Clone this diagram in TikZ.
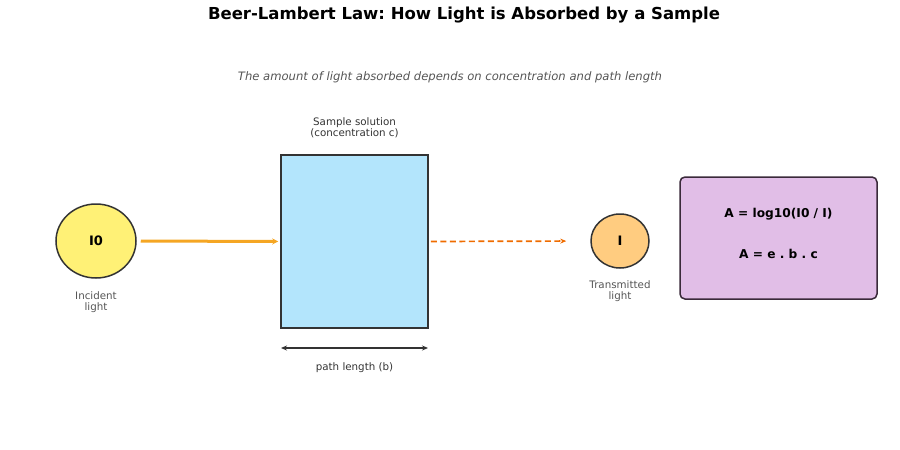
\documentclass[tikz,border=0pt]{standalone}
\usepackage{fontspec}
\setmainfont{DejaVu Sans}
\frenchspacing
\usetikzlibrary{arrows.meta,shapes.geometric}
\definecolor{ink}{HTML}{333333}
\definecolor{grey}{HTML}{555555}
\definecolor{yel}{HTML}{FFF176}
\definecolor{org}{HTML}{FFCC80}
\definecolor{blu}{HTML}{B3E5FC}
\definecolor{pur}{HTML}{E1BEE7}
\definecolor{pbord}{HTML}{3A2A3A}
\definecolor{beam}{HTML}{F5A623}
\definecolor{beamb}{HTML}{EF6C00}
\tikzset{
  lbl/.style={font=\fontsize{10.3}{11}\selectfont, text=grey, align=center},
  lbld/.style={font=\fontsize{10.3}{11}\selectfont, text=ink, align=center},
  orb/.style={ellipse, draw=ink, line width=1.5pt, inner sep=0pt},
  formula/.style={font=\bfseries\fontsize{12.2}{14}\selectfont, text=black}
}
\begin{document}
\begin{tikzpicture}[x=1pt,y=-1pt]
\useasboundingbox (0,0) rectangle (900,450);
\node[font=\bfseries\fontsize{16.5}{20}\selectfont] (title) at (464,15) {Beer-Lambert Law: How Light is Absorbed by a Sample};
\node[font=\itshape\fontsize{11.6}{14}\selectfont, text=grey] (sub) at (450,77) {The amount of light absorbed depends on concentration and path length};

\node[orb, fill=yel, minimum width=80pt, minimum height=74pt, font=\bfseries\fontsize{13}{15}\selectfont] (i0) at (96,241) {I0};
\node[lbl] (inc) at (96,302) {Incident\\light};

\node[draw=ink, line width=1.5pt, fill=blu, minimum width=147pt, minimum height=173pt, inner sep=0pt] (cell) at (354.5,241.5) {};
\node[lbld] (samp) at (354.5,128) {Sample solution\\(concentration c)};

\node[orb, fill=org, minimum width=58pt, minimum height=54pt, font=\bfseries\fontsize{13}{15}\selectfont] (i) at (620,241) {I};
\node[lbl] (trans) at (620,291) {Transmitted\\light};

\node[draw=pbord, line width=1.5pt, fill=pur, rounded corners=5pt, minimum width=197pt, minimum height=122pt] (box) at (778.5,238) {};
\node[formula] (f1) at (778.5,214) {A = log10(I0 / I)};
\node[formula] (f2) at (778.5,254) {A = e . b . c};

\draw[beam, line width=3pt, -{Stealth[length=6pt,width=6pt]}, shorten <=4pt, shorten >=2pt] (i0.east) -- (cell.west);
\draw[beamb, line width=1.7pt, dash pattern=on 6pt off 3.5pt, -{Stealth[length=6pt,width=5pt]}, shorten <=2pt, shorten >=24pt] (cell.east) -- (i.west);

\coordinate (pl) at (281,348);
\coordinate (pr) at (428,348);
\draw[ink, line width=1.2pt, {Stealth[length=6pt,width=5pt]}-{Stealth[length=6pt,width=5pt]}] (pl) -- (pr);
\node[lbld] (plen) at (354.5,368) {path length (b)};
\end{tikzpicture}
\end{document}
